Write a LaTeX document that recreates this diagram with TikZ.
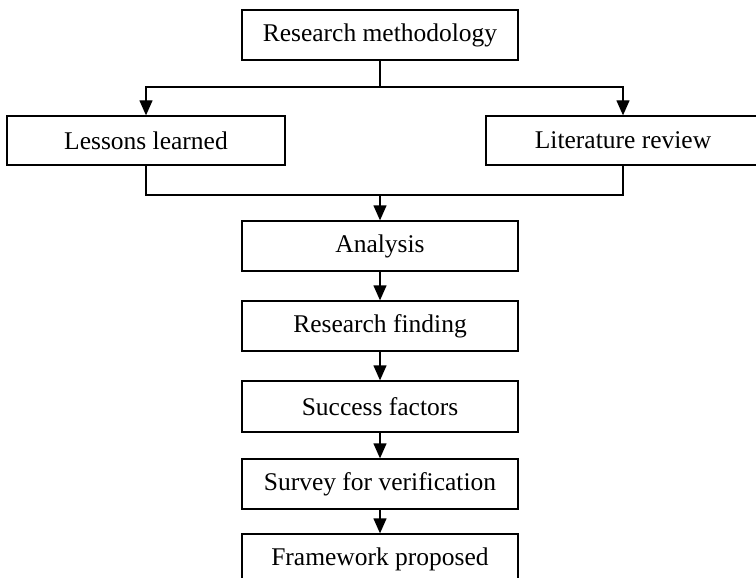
\documentclass[tikz,border=0pt]{standalone}
\usepackage{fontspec}
\setmainfont{Liberation Serif}
\usepackage{tikz}
\usetikzlibrary{arrows.meta, positioning, calc}

\begin{document}
\begin{tikzpicture}[
      x=1pt, y=-1pt,
      every node/.style={font=\fontsize{25.5}{30}\selectfont},
      box/.style={rectangle, draw, line width=1.3pt, inner sep=0pt, minimum width=276pt, minimum height=50pt},
      link/.style={draw, line width=1.3pt},
      flow/.style={link, -{Triangle[length=15pt, width=13pt]}}
    ]
    % page frame, boxes run off the edges
    \useasboundingbox (0,0) rectangle (756,578);
    \clip (0,0) rectangle (756,578);

    % top of the flow
    \node[box] (meth) at (380,35) {Research methodology};
    \node[box, minimum width=278pt, minimum height=49pt] (lessons) at (146,140.5) {Lessons learned};
    \node[box, minimum width=274pt, minimum height=49pt] (litrev) at (623,140.5) {Literature review};

    % main column
    \node[box] (analysis) at (380,246) {Analysis};
    \node[box] (finding) at (380,326) {Research finding};
    \node[box, minimum height=51pt] (success) at (380,406.5) {Success factors};
    \node[box] (survey) at (380,484) {Survey for verification};
    \node[box] (framework) at (380,559) {Framework proposed};

    % split into the two sources
    \coordinate (split) at (380,87);
    \coordinate (merge) at (380,195);
    \draw[link] (meth.south) -- (split);
    \draw[flow] (split) -| (lessons.north);
    \draw[flow] (split) -| (litrev.north);

    % join again
    \draw[link] (lessons.south) |- (merge);
    \draw[link] (litrev.south) |- (merge);
    \draw[flow] (merge) -- (analysis.north);

    \draw[flow] (analysis) -- (finding);
    \draw[flow] (finding) -- (success);
    \draw[flow] (success) -- (survey);
    \draw[flow] (survey) -- (framework);
\end{tikzpicture}
\end{document}
